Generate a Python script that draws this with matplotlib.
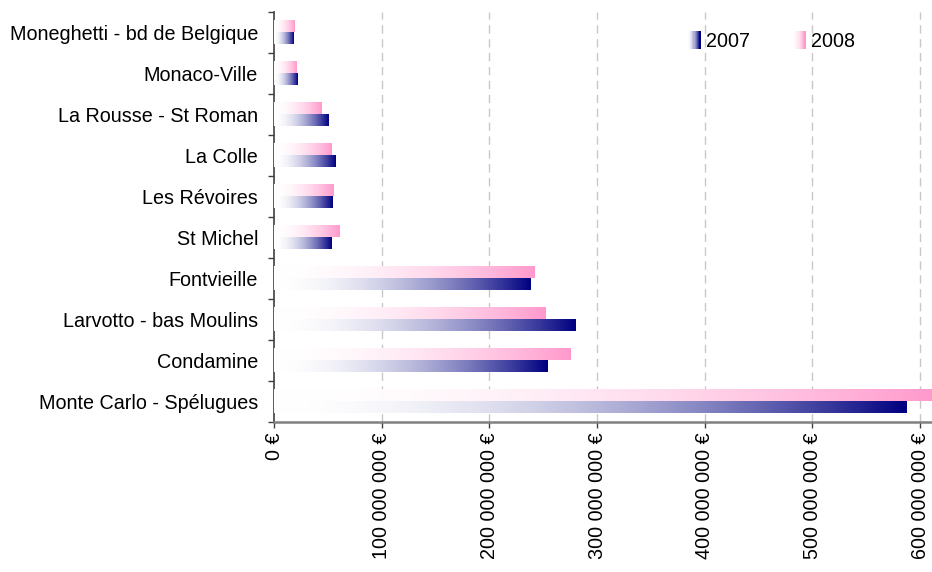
import numpy as np
import matplotlib
matplotlib.use("Agg")
import matplotlib.pyplot as plt
from matplotlib.patches import Rectangle, Patch
from matplotlib.legend_handler import HandlerBase
from matplotlib.colors import to_rgb

plt.rcParams['font.family'] = ['Liberation Sans', 'DejaVu Sans']

# data (top to bottom)
quartiers = ['Moneghetti - bd de Belgique', 'Monaco-Ville', 'La Rousse - St Roman',
             'La Colle', 'Les Révoires', 'St Michel', 'Fontvieille',
             'Larvotto - bas Moulins', 'Condamine', 'Monte Carlo - Spélugues']
v2007 = [18.5e6, 22e6, 51e6, 57.5e6, 54e6, 53e6, 238e6, 280e6, 254e6, 587e6]
v2008 = [19.5e6, 21e6, 44e6, 53e6, 55e6, 61e6, 242e6, 252e6, 275e6, 615e6]
xticks = [0, 100e6, 200e6, 300e6, 400e6, 500e6, 600e6]
xlabels = ['0 €', '100 000 000 €', '200 000 000 €', '300 000 000 €',
           '400 000 000 €', '500 000 000 €', '600 000 000 €']

navy = '#000080'
pink = '#FF99CC'
fs = 14.2


def gradient(color, n=256):
    # white -> color, eased
    c = np.array(to_rgb(color))
    t = np.linspace(0, 1, n) ** 1.9
    rgb = 1 - t[:, None] * (1 - c[None, :])
    return rgb[None, :, :]


class GradientHandler(HandlerBase):
    def create_artists(self, legend, orig_handle, xdescent, ydescent,
                       width, height, fontsize, trans):
        g = gradient(orig_handle.get_facecolor(), 12)[0]
        arts = []
        n = len(g)
        for i in range(n):
            r = Rectangle((-xdescent + i * width / n, -ydescent), width / n + 0.3, height,
                          facecolor=g[i], edgecolor='none', lw=0, transform=trans)
            arts.append(r)
        return arts


fig = plt.figure(figsize=(9.32, 5.72), dpi=100)
ax = fig.add_axes([274 / 932, 1 - 422 / 572, 658 / 932, 410 / 572])

h = 0.29
g07 = gradient(navy)
g08 = gradient(pink)
for i in range(len(quartiers)):
    ax.imshow(g08, extent=[0, v2008[i], i - h, i], aspect='auto',
              interpolation='bilinear', zorder=3)
    ax.imshow(g07, extent=[0, v2007[i], i, i + h], aspect='auto',
              interpolation='bilinear', zorder=3)

ax.set_xlim(0, 611e6)
ax.set_ylim(len(quartiers) - 0.5, -0.5)

ax.set_xticks(xticks)
ax.set_xticklabels(xlabels, rotation=90, fontsize=fs)
ax.set_yticks(np.arange(len(quartiers)))
ax.set_yticklabels(quartiers, fontsize=fs)
ax.set_yticks(np.arange(len(quartiers) + 1) - 0.5, minor=True)
ax.tick_params(axis='y', which='major', length=0, pad=11.5)
ax.tick_params(axis='y', which='minor', length=4.5, width=1, color='#404040')
ax.tick_params(axis='x', length=4.5, width=1, color='#404040', pad=3)

for x in xticks[1:]:
    ax.axvline(x, color='#C8C8C8', lw=1, ls=(0, (6, 4)), zorder=1)

ax.spines['top'].set_visible(False)
ax.spines['right'].set_visible(False)
ax.spines['left'].set_color('#404040')
ax.spines['left'].set_linewidth(1.2)
ax.spines['bottom'].set_color('#808080')
ax.spines['bottom'].set_linewidth(1.8)

handles = [Patch(facecolor=navy), Patch(facecolor=pink)]
fig.legend(handles, ['2007', '2008'], handler_map={Patch: GradientHandler()},
           loc='center', bbox_to_anchor=(771 / 932, 1 - 41 / 572), ncol=2,
           frameon=False, fontsize=fs, handlelength=0.7, handleheight=1.0,
           handletextpad=0.3, columnspacing=2.1)

fig.savefig('out.png', dpi=100)
